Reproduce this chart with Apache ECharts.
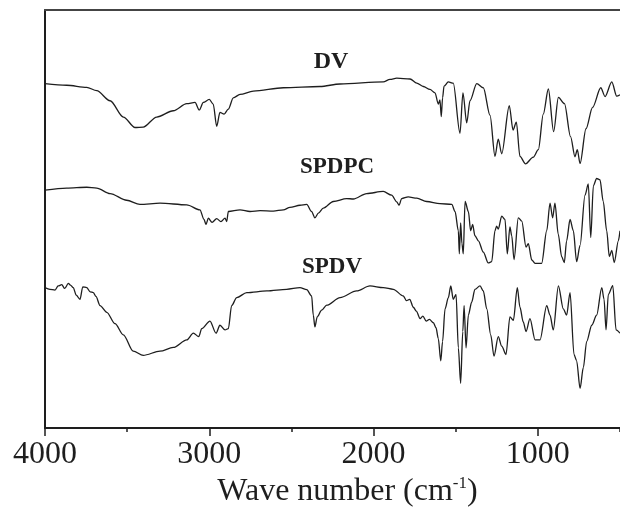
<!DOCTYPE html>
<html>
<head>
<meta charset="utf-8">
<script src="https://cdn.jsdelivr.net/npm/echarts@6/dist/echarts.min.js"></script>
<style>
    html, body { margin: 0; padding: 0; background: #fff; }
    #chart { width: 620px; height: 513px; }
</style>
</head>
<body>
<div id="chart"></div>
<script>
// FTIR spectra, wavenumber (cm-1) vs relative transmittance (arbitrary, stacked)
var dvWave = [4000, 3868, 3746, 3685, 3604, 3523, 3452, 3402, 3320, 3219, 3137, 3087, 3061, 3036, 3000, 2976, 2955, 2935, 2910, 2884,
    2854, 2813, 2732, 2549, 2326, 2204, 1941, 1900, 1859, 1778, 1737, 1697, 1657, 1626, 1606, 1596, 1588, 1580, 1571, 1545,
    1515, 1474, 1456, 1433, 1413, 1372, 1332, 1291, 1261, 1241, 1220, 1174, 1151, 1131, 1109, 1075, 1028, 997, 967, 936,
    904, 875, 838, 801, 774, 760, 743, 707, 667, 617, 591, 550, 520, 500];
var dvT = [82.4, 82.0, 81.5, 80.7, 78.3, 74.4, 71.9, 72.0, 74.4, 75.9, 77.6, 77.9, 76.1, 77.9, 78.6, 77.5, 72.2, 75.5, 75.1, 76.3,
    79.0, 79.8, 80.6, 81.4, 81.7, 82.3, 82.8, 83.4, 83.7, 83.5, 82.5, 81.7, 81.0, 80.2, 77.5, 78.5, 74.5, 79.0, 81.8, 82.8,
    82.5, 70.5, 80.2, 73.0, 78.3, 82.4, 81.4, 74.8, 65.0, 69.1, 65.6, 77.1, 71.3, 73.2, 65.0, 63.2, 64.8, 66.6, 75.1, 81.1,
    70.9, 79.1, 77.6, 69.7, 64.9, 66.6, 63.3, 71.6, 76.7, 81.4, 79.3, 82.8, 79.4, 79.7];

var spdpcWave = [4000, 3868, 3746, 3685, 3604, 3503, 3422, 3300, 3137, 3057, 3032, 3020, 3006, 2983, 2955, 2929, 2904, 2894, 2884, 2813,
    2752, 2691, 2610, 2549, 2509, 2448, 2407, 2377, 2357, 2336, 2306, 2245, 2164, 2123, 2042, 1941, 1890, 1859, 1845, 1829,
    1789, 1737, 1677, 1596, 1524, 1504, 1484, 1478, 1470, 1462, 1454, 1443, 1423, 1409, 1397, 1383, 1362, 1332, 1302, 1281,
    1261, 1251, 1241, 1220, 1200, 1186, 1170, 1159, 1145, 1119, 1098, 1072, 1058, 1037, 1017, 977, 946, 926, 910, 896,
    876, 855, 839, 825, 804, 784, 764, 743, 713, 693, 678, 662, 642, 622, 602, 581, 565, 550, 535, 510, 500];
var spdpcT = [56.9, 57.4, 57.6, 57.4, 56.1, 54.5, 53.5, 53.8, 53.4, 52.2, 49.9, 48.7, 50.2, 49.2, 50.1, 49.4, 50.2, 49.4, 51.8, 52.2,
    51.8, 52.0, 51.9, 52.2, 52.8, 53.3, 53.5, 51.8, 50.3, 51.4, 52.6, 54.2, 54.9, 54.8, 56.1, 56.6, 55.7, 54.1, 53.3, 54.9,
    55.3, 55.0, 54.2, 53.7, 53.5, 51.8, 47.2, 41.7, 49.1, 44.1, 41.7, 54.2, 51.8, 47.2, 48.7, 46.0, 44.8, 42.1, 39.5, 39.8,
    47.2, 48.3, 47.6, 50.7, 49.9, 41.7, 48.1, 46.0, 40.3, 50.3, 49.5, 43.3, 44.1, 40.2, 39.4, 39.4, 47.2, 53.8, 50.3, 53.8,
    46.4, 41.0, 39.6, 44.8, 49.9, 47.2, 39.8, 43.7, 55.7, 58.4, 45.6, 58.0, 59.7, 59.4, 54.2, 47.2, 41.0, 42.5, 39.6, 44.8, 47.2];

var spdvWave = [4000, 3970, 3939, 3920, 3898, 3880, 3858, 3845, 3828, 3810, 3787, 3770, 3746, 3725, 3706, 3690, 3665, 3624, 3574, 3523,
    3463, 3402, 3300, 3219, 3137, 3097, 3064, 3046, 2996, 2959, 2935, 2904, 2884, 2864, 2833, 2772, 2650, 2529, 2448, 2407,
    2377, 2367, 2357, 2343, 2316, 2285, 2204, 2103, 2022, 1941, 1880, 1819, 1800, 1780, 1758, 1740, 1717, 1700, 1680, 1660,
    1636, 1620, 1606, 1591, 1580, 1565, 1545, 1530, 1515, 1498, 1484, 1470, 1457, 1449, 1437, 1423, 1403, 1383, 1352, 1332,
    1311, 1287, 1267, 1241, 1220, 1194, 1170, 1149, 1125, 1109, 1089, 1072, 1048, 1017, 987, 946, 926, 906, 875, 845,
    825, 804, 780, 764, 743, 723, 703, 672, 642, 611, 597, 585, 571, 544, 524, 500];
var spdvT = [33.6, 33.2, 33.0, 34.0, 34.3, 33.4, 34.6, 34.2, 33.6, 31.8, 30.8, 33.8, 33.6, 32.6, 32.4, 31.5, 29.3, 27.7, 25.0, 22.3,
    18.4, 17.4, 18.4, 19.3, 21.1, 22.7, 21.9, 23.8, 25.6, 22.7, 24.6, 23.5, 23.8, 29.3, 31.2, 32.4, 32.8, 33.2, 33.6, 33.1,
    31.6, 27.0, 24.2, 26.6, 28.2, 29.4, 31.2, 32.8, 34.0, 33.6, 33.2, 31.6, 30.5, 30.8, 28.9, 28.0, 26.2, 26.8, 25.6, 26.0,
    25.2, 24.0, 21.4, 16.1, 20.7, 28.5, 31.2, 34.0, 30.8, 32.0, 19.2, 10.7, 23.1, 29.3, 19.2, 27.0, 30.1, 33.2, 34.0, 32.8,
    28.5, 22.3, 17.2, 21.9, 19.6, 17.6, 26.6, 25.8, 33.6, 28.9, 25.4, 23.1, 26.2, 21.1, 21.1, 29.3, 27.0, 23.5, 34.0, 28.5,
    27.0, 32.4, 17.6, 16.1, 9.5, 14.5, 20.7, 24.6, 27.0, 33.6, 30.8, 23.5, 32.0, 34.1, 23.5, 22.7];

var majorTicks = [4000, 3000, 2000, 1000];
var seriesNames = ['DV', 'SPDPC', 'SPDV'];

function pairs(xs, ys) {
    var out = [];
    for (var i = 0; i < xs.length; i++) {
        out.push([xs[i], ys[i]]);
    }
    return out;
}

var myChart = echarts.init(document.getElementById('chart'));

var serif = '"Liberation Serif", "Times New Roman", serif';
var ink = '#1e1e1e';

function lineSeries(name, xs, ys) {
    return {
        name: name,
        type: 'line',
        xAxisIndex: 0,
        data: pairs(xs, ys),
        showSymbol: false,
        smooth: 0.3,
        smoothMonotone: 'x',
        lineStyle: { color: ink, width: 1.3 },
        silent: true
    };
}

var option = {
    animation: false,
    grid: {
        left: 45,
        right: 0,
        top: 10,
        bottom: 74
    },
    xAxis: [
        {
            type: 'value',
            position: 'bottom',
            inverse: true,
            min: 500,
            max: 4000,
            interval: 500,
            name: '{a|Wave number (cm}{s|-1}{a|)}',
            nameLocation: 'middle',
            nameGap: 40,
            nameTextStyle: {
                padding: [0, 0, 0, 30],
                rich: {
                    a: { fontFamily: serif, fontSize: 32, color: ink, lineHeight: 34 },
                    s: { fontFamily: serif, fontSize: 17, color: ink, verticalAlign: 'top', lineHeight: 18 }
                }
            },
            axisLine: { lineStyle: { color: ink, width: 2 } },
            axisTick: { length: 4, lineStyle: { color: ink, width: 1.5 } },
            axisLabel: {
                customValues: majorTicks,
                margin: 10,
                fontFamily: serif,
                fontSize: 32,
                color: ink,
                formatter: function (value) {
                    return String(value);
                }
            },
            splitLine: { show: false }
        },
        {
            // longer ticks at the labelled positions
            type: 'value',
            position: 'bottom',
            inverse: true,
            min: 500,
            max: 4000,
            axisLine: { show: false },
            axisTick: { customValues: majorTicks, length: 8, lineStyle: { color: ink, width: 1.5 } },
            axisLabel: { show: false },
            splitLine: { show: false }
        },
        {
            // frame top
            type: 'value',
            position: 'top',
            inverse: true,
            min: 500,
            max: 4000,
            axisLine: { lineStyle: { color: '#444', width: 2 } },
            axisTick: { show: false },
            axisLabel: { show: false },
            splitLine: { show: false }
        }
    ],
    yAxis: {
        type: 'value',
        min: 0,
        max: 100,
        axisLine: { show: true, lineStyle: { color: ink, width: 2 } },
        axisTick: { show: false },
        axisLabel: { show: false },
        splitLine: { show: false }
    },
    graphic: [
        { type: 'text', x: 331, y: 62, style: { text: seriesNames[0], fontFamily: serif, fontWeight: 'bold', fontSize: 24, fill: ink, align: 'center', verticalAlign: 'middle' } },
        { type: 'text', x: 337, y: 167, style: { text: seriesNames[1], fontFamily: serif, fontWeight: 'bold', fontSize: 23, fill: ink, align: 'center', verticalAlign: 'middle' } },
        { type: 'text', x: 332, y: 267, style: { text: seriesNames[2], fontFamily: serif, fontWeight: 'bold', fontSize: 23, fill: ink, align: 'center', verticalAlign: 'middle' } }
    ],
    series: [
        lineSeries(seriesNames[0], dvWave, dvT),
        lineSeries(seriesNames[1], spdpcWave, spdpcT),
        lineSeries(seriesNames[2], spdvWave, spdvT)
    ]
};

myChart.setOption(option);
</script>
</body>
</html>
